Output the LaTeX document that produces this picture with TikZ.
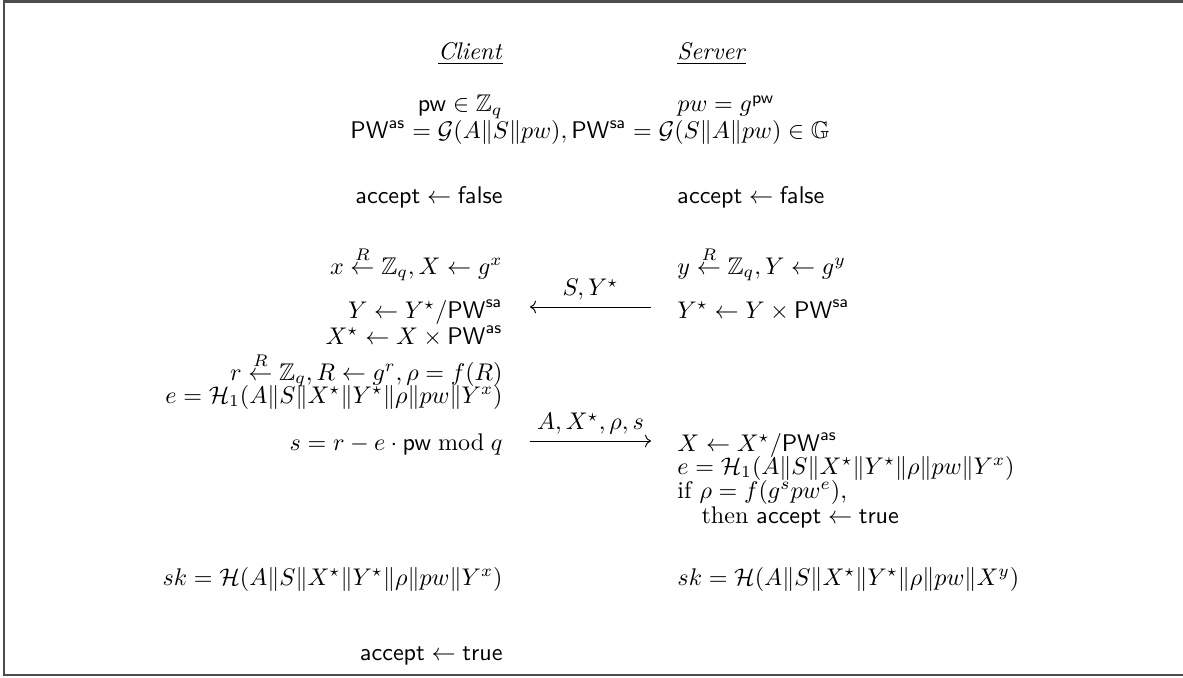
\documentclass[tikz,border=0pt]{standalone}
\usepackage{amsmath,amssymb}
\usepackage{tikz}
\usetikzlibrary{arrows.meta}

\begin{document}
\begin{tikzpicture}[x=0.415pt,y=-0.415pt,
 cl/.style={anchor=base east,inner sep=0pt},
 sv/.style={anchor=base west,inner sep=0pt},
 msg/.style={above,inner sep=2.5pt},
 >={Computer Modern Rightarrow}]
\useasboundingbox (0,0) rectangle (1183,677);
\draw[black!70,line width=0.9pt] (1183,1.5) -- (4,1.5) -- (4,675) -- (1183,675);
\node[cl] (chead) at (503,60) {\underline{\textit{Client}}};
\node[sv] (shead) at (677,60) {\underline{\textit{Server}}};
\node[cl] (cpw) at (503,112) {$\mathsf{pw} \in \mathbb{Z}_q$};
\node[sv] (spw) at (677,112) {$pw = g^{\mathsf{pw}}$};
\node[anchor=base,inner sep=0pt] (pwdef) at (590,139)
 {$\mathsf{PW}^{\mathsf{as}} = \mathcal{G}(A\|S\|pw), \mathsf{PW}^{\mathsf{sa}} = \mathcal{G}(S\|A\|pw) \in \mathbb{G}$};
\node[cl] (cacc) at (503,203) {$\mathsf{accept} \leftarrow \mathsf{false}$};
\node[sv] (sacc) at (677,203) {$\mathsf{accept} \leftarrow \mathsf{false}$};
\node[cl] (cx) at (503,274) {$x \stackrel{R}{\leftarrow} \mathbb{Z}_q, X \leftarrow g^x$};
\node[sv] (sy) at (677,274) {$y \stackrel{R}{\leftarrow} \mathbb{Z}_q, Y \leftarrow g^y$};
\node[cl] (cY) at (503,318) {$Y \leftarrow Y^\star/\mathsf{PW}^{\mathsf{sa}}$};
\node[sv] (sYs) at (677,318) {$Y^\star \leftarrow Y \times \mathsf{PW}^{\mathsf{sa}}$};
\node[cl] (cXs) at (503,344) {$X^\star \leftarrow X \times \mathsf{PW}^{\mathsf{as}}$};
\node[cl] (cr) at (503,380) {$r \stackrel{R}{\leftarrow} \mathbb{Z}_q, R \leftarrow g^r, \rho = f(R)$};
\node[cl] (ce) at (503,403) {$e = \mathcal{H}_1(A\|S\|X^\star\|Y^\star\|\rho\|pw\|Y^x)$};
\node[cl] (cs) at (503,450) {$s = r - e \cdot \mathsf{pw} \bmod q$};
\node[sv] (sX) at (677,451) {$X \leftarrow X^\star/\mathsf{PW}^{\mathsf{as}}$};
\node[sv] (se) at (677,474) {$e = \mathcal{H}_1(A\|S\|X^\star\|Y^\star\|\rho\|pw\|Y^x)$};
\node[sv] (sif) at (677,498) {if $\rho = f(g^s pw^e)$,};
\node[sv] (sthen) at (677,523) {\quad then $\mathsf{accept} \leftarrow \mathsf{true}$};
\node[cl] (csk) at (503,585) {$sk = \mathcal{H}(A\|S\|X^\star\|Y^\star\|\rho\|pw\|Y^x)$};
\node[sv] (ssk) at (677,585) {$sk = \mathcal{H}(A\|S\|X^\star\|Y^\star\|\rho\|pw\|X^y)$};
\node[cl] (cdone) at (503,660) {$\mathsf{accept} \leftarrow \mathsf{true}$};
\coordinate (m1r) at (651,307);
\coordinate (m1l) at (530,307);
\coordinate (m2l) at (530,441);
\coordinate (m2r) at (651,441);
\draw[->] (m1r) -- node[msg] {$S, Y^\star$} (m1l);
\draw[->] (m2l) -- node[msg] {$A, X^\star, \rho, s$} (m2r);
\end{tikzpicture}
\end{document}
